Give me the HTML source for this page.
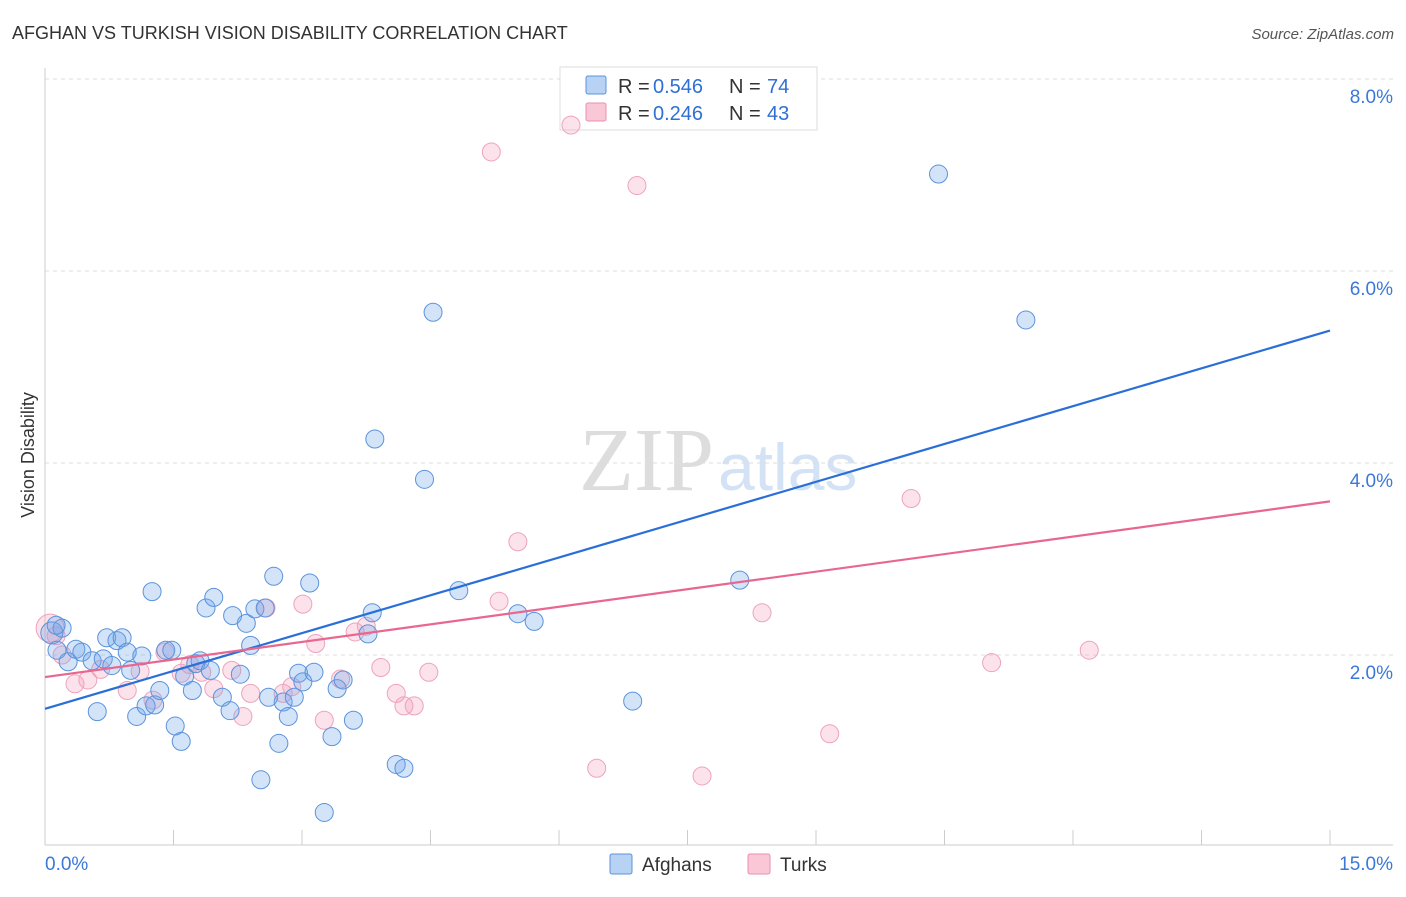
<!DOCTYPE html>
<html><head><meta charset="utf-8"><style>
body{margin:0;background:#fff;font-family:"Liberation Sans",sans-serif;}
</style></head><body>
<svg id="chart" width="1406" height="892" xmlns="http://www.w3.org/2000/svg">
<text x="12" y="39" font-size="18" fill="#333">AFGHAN VS TURKISH VISION DISABILITY CORRELATION CHART</text>
<text x="1394" y="39" font-size="15" fill="#555" text-anchor="end" font-style="italic">Source: ZipAtlas.com</text>
<text x="714" y="490" font-size="90" fill="#ddd" text-anchor="end" font-family="Liberation Serif,serif">ZIP</text>
<text x="718" y="490" font-size="66" fill="#d4e2f5">atlas</text>
<text transform="translate(34,455) rotate(-90)" font-size="18" fill="#333" text-anchor="middle">Vision Disability</text>
<g id="grid"></g><g id="axes"></g>
<g>
<rect x="560" y="67" width="257" height="63" fill="#fff" stroke="#ddd"/>
<rect x="586" y="76" width="20" height="18" fill="#b8d2f4" stroke="#5b93dc" rx="2"/>
<rect x="586" y="103" width="20" height="18" fill="#f9c7d6" stroke="#ea8fae" rx="2"/>
<text x="618" y="93" font-size="20" fill="#333">R =</text>
<text x="653" y="93" font-size="20" fill="#2f6fd6">0.546</text>
<text x="729" y="93" font-size="20" fill="#333">N =</text>
<text x="767" y="93" font-size="20" fill="#2f6fd6">74</text>
<text x="618" y="120" font-size="20" fill="#333">R =</text>
<text x="653" y="120" font-size="20" fill="#2f6fd6">0.246</text>
<text x="729" y="120" font-size="20" fill="#333">N =</text>
<text x="767" y="120" font-size="20" fill="#2f6fd6">43</text>
</g>
<g id="pts"></g><g id="lines"></g>
<g>
<rect x="610" y="854" width="22" height="20" fill="#b8d2f4" stroke="#5b93dc" rx="2"/>
<text x="642" y="871" font-size="19" fill="#333">Afghans</text>
<rect x="748" y="854" width="22" height="20" fill="#f9c7d6" stroke="#ea8fae" rx="2"/>
<text x="780" y="871" font-size="19" fill="#333">Turks</text>
</g>
</svg>
<script>
const yTicks=[2,4,6,8];
const yTickLabels=["2.0%","4.0%","6.0%","8.0%"];
const xTickLabels=["0.0%","15.0%"];
const afghanX=[0.08,0.14,0.2,0.27,0.36,0.43,0.55,0.61,0.68,0.72,0.78,0.84,0.9,0.96,1.0,1.07,1.13,1.18,1.25,1.28,1.34,1.41,1.48,1.52,1.59,1.63,1.72,1.76,1.81,1.88,1.93,1.97,2.07,2.16,2.19,2.28,2.35,2.4,2.45,2.52,2.57,2.61,2.67,2.73,2.78,2.84,2.91,2.96,3.01,3.09,3.14,3.26,3.35,3.41,3.48,3.6,3.77,3.82,3.85,4.1,4.19,4.43,4.53,4.83,5.52,5.71,6.86,8.11,10.43,11.45,0.13];
const afghanY=[2.23,2.05,2.28,1.93,2.06,2.03,1.94,1.41,1.96,2.18,1.89,2.15,2.18,2.03,1.84,1.36,1.99,1.47,2.66,1.48,1.63,2.05,2.05,1.26,1.1,1.78,1.63,1.91,1.94,2.49,1.84,2.6,1.56,1.42,2.41,1.8,2.33,2.1,2.48,0.7,2.49,1.56,2.82,1.08,1.51,1.36,1.56,1.81,1.72,2.75,1.82,0.36,1.15,1.65,1.74,1.32,2.22,2.44,4.25,0.86,0.82,3.83,5.57,2.67,2.43,2.35,1.52,2.78,7.01,5.49,2.31];
const turkX=[0.06,0.13,0.2,0.35,0.5,0.65,0.96,1.11,1.26,1.4,1.59,1.69,1.83,1.97,2.18,2.31,2.4,2.58,2.78,2.88,3.01,3.16,3.26,3.45,3.62,3.75,3.92,4.1,4.19,4.31,4.48,5.21,5.3,5.52,6.14,6.44,6.91,7.67,8.37,9.16,10.11,11.05,12.19];
const turkY=[2.28,2.2,2.0,1.7,1.74,1.85,1.63,1.83,1.53,2.03,1.81,1.9,1.82,1.65,1.84,1.36,1.6,2.49,1.6,1.67,2.53,2.12,1.32,1.75,2.24,2.3,1.87,1.6,1.47,1.47,1.82,7.24,2.56,3.18,7.52,0.82,6.89,0.74,2.44,1.18,3.63,1.92,2.05];
const afghanFit=[1.44,5.38];
const turkFit=[1.77,3.6];
const NS="http://www.w3.org/2000/svg";
const X0=45,X1=1330,Y0=847,PPU=96;
const sx=v=>X0+v/15*(X1-X0);
const sy=v=>Y0-v*PPU;
function mk(t,a,p){const e=document.createElementNS(NS,t);for(const k in a)e.setAttribute(k,a[k]);document.getElementById(p).appendChild(e);return e;}
yTicks.forEach((v,i)=>{
 const g=mk('line',{x1:45,x2:1393,y1:sy(v),y2:sy(v),stroke:'#ddd','stroke-dasharray':'4,4'},'grid');
 
 
 const t=mk('text',{x:1393,y:sy(v)+24,'font-size':19,fill:'#3b78d8','text-anchor':'end'},'grid');
 t.textContent=yTickLabels[i];
 
 
});
let a=mk('line',{x1:45,x2:45,y1:68,y2:845,stroke:'#ccc'},'axes');


a=mk('line',{x1:45,x2:1393,y1:845,y2:845,stroke:'#ccc'},'axes');


for(let i=0;i<=10;i++){const x=X0+i*(X1-X0)/10;
 const tk=mk('line',{x1:x,x2:x,y1:830,y2:845,stroke:'#ccc'},'axes');
 
 }
let t=mk('text',{x:45,y:870,'font-size':19,fill:'#3b78d8'},'axes');t.textContent=xTickLabels[0];


t=mk('text',{x:1393,y:870,'font-size':19,fill:'#3b78d8','text-anchor':'end'},'axes');t.textContent=xTickLabels[1];


turkX.forEach((v,i)=>{const c=mk('circle',{cx:sx(v),cy:sy(turkY[i]),r:i==0?14:9,fill:'rgba(244,160,190,0.3)',stroke:'#eea3bc','stroke-width':1},'pts');
 
 });
afghanX.forEach((v,i)=>{const c=mk('circle',{cx:sx(v),cy:sy(afghanY[i]),r:i==0?11:9,fill:'rgba(110,165,235,0.3)',stroke:'#5b93dc','stroke-width':1},'pts');
 
 });
let l=mk('line',{x1:sx(0),x2:sx(15),y1:sy(afghanFit[0]),y2:sy(afghanFit[1]),stroke:'#2a6fd8','stroke-width':2.2},'lines');


l=mk('line',{x1:sx(0),x2:sx(15),y1:sy(turkFit[0]),y2:sy(turkFit[1]),stroke:'#e8678f','stroke-width':2.2},'lines');


</script>
</body></html>
